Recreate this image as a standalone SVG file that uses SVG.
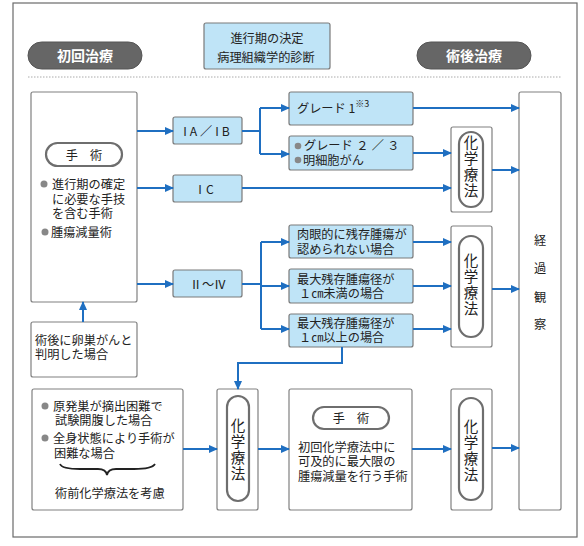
<svg xmlns="http://www.w3.org/2000/svg" width="584" height="546" viewBox="0 0 584 546">
<defs>
<marker id="ar" markerUnits="userSpaceOnUse" markerWidth="9" markerHeight="8" refX="8" refY="4" orient="auto">
<path d="M0,0 L9,4 L0,8 Z" fill="#1f6fc1"/>
</marker>
<style>
text{font-family:"Noto Sans CJK JP","Noto Sans",sans-serif;fill:#222;font-size:12.2px}
.m{font-family:"Liberation Sans","Noto Sans CJK JP",sans-serif}
.box{fill:#fff;stroke:#808080;stroke-width:1.2}
.blue{fill:#bfe4f7;stroke:#7a7a7a;stroke-width:1.2}
.hdr{fill:#666;stroke:#555;stroke-width:1}
.htx{fill:#fff;font-size:14px;font-weight:bold;text-anchor:middle}
.pill{fill:#fff;stroke:#6e6e6e;stroke-width:2.2}
.vt{font-size:14.5px;text-anchor:middle;writing-mode:vertical-rl;letter-spacing:1.3px}
.c{text-anchor:middle}
.bul{fill:#888}
.ln{fill:none;stroke:#1f6fc1;stroke-width:2}
</style>
</defs>
<rect x="13" y="3" width="564" height="534" fill="#fff" stroke="#6a6a6a" stroke-width="1.2"/>
<line x1="28" y1="77" x2="562" y2="77" stroke="#aaa" stroke-width="1" stroke-dasharray="1.5,1.5"/>

<g id="hdr-left"><rect class="hdr" x="28" y="42" width="114" height="27" rx="13.5"/><text class="htx" x="85" y="60.5">初回治療</text></g>
<g id="hdr-right"><rect class="hdr" x="417" y="42" width="114" height="27" rx="13.5"/><text class="htx" x="474" y="60.5">術後治療</text></g>
<g id="title"><rect class="blue" x="204" y="23" width="126" height="46" rx="2"/><text class="c m" x="267" y="42.5" font-size="14">進行期の決定</text><text class="c m" x="266" y="62" font-size="14">病理組織学的診断</text></g>

<g id="surgery1">
<rect class="box" x="31" y="92" width="106" height="210" rx="2"/>
<rect class="pill" x="46" y="143" width="76" height="23" rx="11.5"/>
<text class="c" x="84" y="159.5" font-size="14">手　術</text>
<circle class="bul" cx="44" cy="184" r="3.5"/>
<text class="m" x="52" y="188.5">進行期の確定</text>
<text class="m" x="52" y="203.5">に必要な手技</text>
<text class="m" x="52" y="218">を含む手術</text>
<circle class="bul" cx="45" cy="232" r="3.5"/>
<text class="m" x="51" y="236.5">腫瘍減量術</text>
</g>

<g id="postop-found"><rect class="box" x="31" y="322" width="106" height="55" rx="2"/><text class="m" x="35" y="344.5">術後に卵巣がんと</text><text class="m" x="35" y="359">判明した場合</text></g>

<g id="stage-IAIB"><rect class="blue" x="173" y="117" width="69" height="27" rx="2"/><text class="c" x="208" y="135.5" letter-spacing="3" font-size="13">IA／IB</text></g>
<g id="stage-IC"><rect class="blue" x="173" y="175" width="69" height="27" rx="2"/><text class="c" x="208" y="193.5" letter-spacing="4" font-size="13">IC</text></g>
<g id="stage-II-IV"><rect class="blue" x="173" y="270" width="69" height="27" rx="2"/><text class="c" x="208" y="288.5" font-size="13" font-family="DejaVu Serif, serif">Ⅱ～Ⅳ</text></g>

<g id="grade1"><rect class="blue" x="289" y="92" width="124" height="33" rx="2"/><text x="297" y="112.5">グレード 1<tspan font-size="9" dy="-6">※3</tspan></text></g>
<g id="grade23"><rect class="blue" x="289" y="136" width="124" height="34" rx="2"/><circle class="bul" cx="298" cy="146" r="3.3"/><text class="m" x="304" y="150">グレード ２ ／ ３</text><circle class="bul" cx="298" cy="160" r="3.3"/><text class="m" x="303" y="164.5">明細胞がん</text></g>

<g id="resid-none"><rect class="blue" x="289" y="225" width="124" height="33" rx="2"/><text class="m" x="297" y="239">肉眼的に残存腫瘍が</text><text class="m" x="297" y="253.5">認められない場合</text></g>
<g id="resid-lt1"><rect class="blue" x="289" y="269" width="124" height="34" rx="2"/><text class="m" x="297" y="283.5">最大残存腫瘍径が</text><text class="m" x="299" y="298">１㎝未満の場合</text></g>
<g id="resid-ge1"><rect class="blue" x="289" y="314" width="124" height="33" rx="2"/><text class="m" x="297" y="327.5">最大残存腫瘍径が</text><text class="m" x="299" y="342">１㎝以上の場合</text></g>

<g id="chemo1"><rect class="box" x="451" y="127" width="41" height="85" rx="2"/><rect class="pill" x="459" y="132" width="24" height="75" rx="12"/><text class="vt" x="471" y="167">化学療法</text></g>
<g id="chemo2"><rect class="box" x="451" y="226" width="41" height="121" rx="2"/><rect class="pill" x="459" y="236" width="24" height="101" rx="12"/><text class="vt" x="471" y="285">化学療法</text></g>
<g id="keika"><rect class="box" x="519" y="92" width="42" height="418" rx="2"/><text class="c" x="540" y="245" font-size="14">経<tspan x="540" dy="28">過</tspan><tspan x="540" dy="28.5">観</tspan><tspan x="540" dy="27">察</tspan></text></g>

<g id="neoadj"><rect class="box" x="32" y="389" width="151" height="121" rx="2"/>
<circle class="bul" cx="45" cy="406" r="3.5"/><text class="m" x="53" y="410.5">原発巣が摘出困難で</text><text class="m" x="55" y="425">試験開腹した場合</text>
<circle class="bul" cx="45" cy="438" r="3.5"/><text class="m" x="53" y="442.5">全身状態により手術が</text><text class="m" x="54" y="457.5">困難な場合</text>
<path d="M60,464 Q62,469 80,469 L98,469 Q106,469 107,475 Q108,469 116,469 L134,469 Q152,469 155,464" fill="none" stroke="#222" stroke-width="1.8"/>
<text x="55" y="497.5">術前化学療法を考慮</text></g>

<g id="chemo3"><rect class="box" x="217" y="389" width="41" height="121" rx="2"/><rect class="pill" x="227" y="396" width="22" height="105" rx="11"/><text class="vt" x="238" y="450">化学療法</text></g>
<g id="surgery2"><rect class="box" x="289" y="389" width="123" height="121" rx="2"/><rect class="pill" x="313" y="407" width="76" height="22" rx="11"/><text class="c" x="351" y="423" font-size="14">手　術</text><text class="m" x="298" y="451.5">初回化学療法中に</text><text class="m" x="298" y="466">可及的に最大限の</text><text class="m" x="298" y="480.5">腫瘍減量を行う手術</text></g>
<g id="chemo4"><rect class="box" x="451" y="389" width="41" height="121" rx="2"/><rect class="pill" x="459" y="398" width="24" height="102" rx="12"/><text class="vt" x="471" y="451">化学療法</text></g>

<g id="connectors">
<path class="ln" d="M137,131 H173" marker-end="url(#ar)"/>
<path class="ln" d="M137,188 H173" marker-end="url(#ar)"/>
<path class="ln" d="M137,284 H173" marker-end="url(#ar)"/>
<path class="ln" d="M83,322 V302" marker-end="url(#ar)"/>
<path class="ln" d="M242,131 H260"/>
<path class="ln" d="M260,108 V154"/>
<path class="ln" d="M260,108 H289" marker-end="url(#ar)"/>
<path class="ln" d="M260,154 H289" marker-end="url(#ar)"/>
<path class="ln" d="M413,108 H519" marker-end="url(#ar)"/>
<path class="ln" d="M413,153 H451" marker-end="url(#ar)"/>
<path class="ln" d="M242,188 H451" marker-end="url(#ar)"/>
<path class="ln" d="M492,170 H519" marker-end="url(#ar)"/>
<path class="ln" d="M242,284 H261"/>
<path class="ln" d="M261,242 V329"/>
<path class="ln" d="M261,242 H289" marker-end="url(#ar)"/>
<path class="ln" d="M261,286 H289" marker-end="url(#ar)"/>
<path class="ln" d="M261,329 H289" marker-end="url(#ar)"/>
<path class="ln" d="M413,242 H451" marker-end="url(#ar)"/>
<path class="ln" d="M413,286 H451" marker-end="url(#ar)"/>
<path class="ln" d="M413,329 H451" marker-end="url(#ar)"/>
<path class="ln" d="M492,289 H519" marker-end="url(#ar)"/>
<path class="ln" d="M342,347 V363 H238 V389" marker-end="url(#ar)"/>
<path class="ln" d="M183,449 H217" marker-end="url(#ar)"/>
<path class="ln" d="M258,449 H289" marker-end="url(#ar)"/>
<path class="ln" d="M412,449 H451" marker-end="url(#ar)"/>
<path class="ln" d="M492,448 H519" marker-end="url(#ar)"/>
</g>
</svg>
